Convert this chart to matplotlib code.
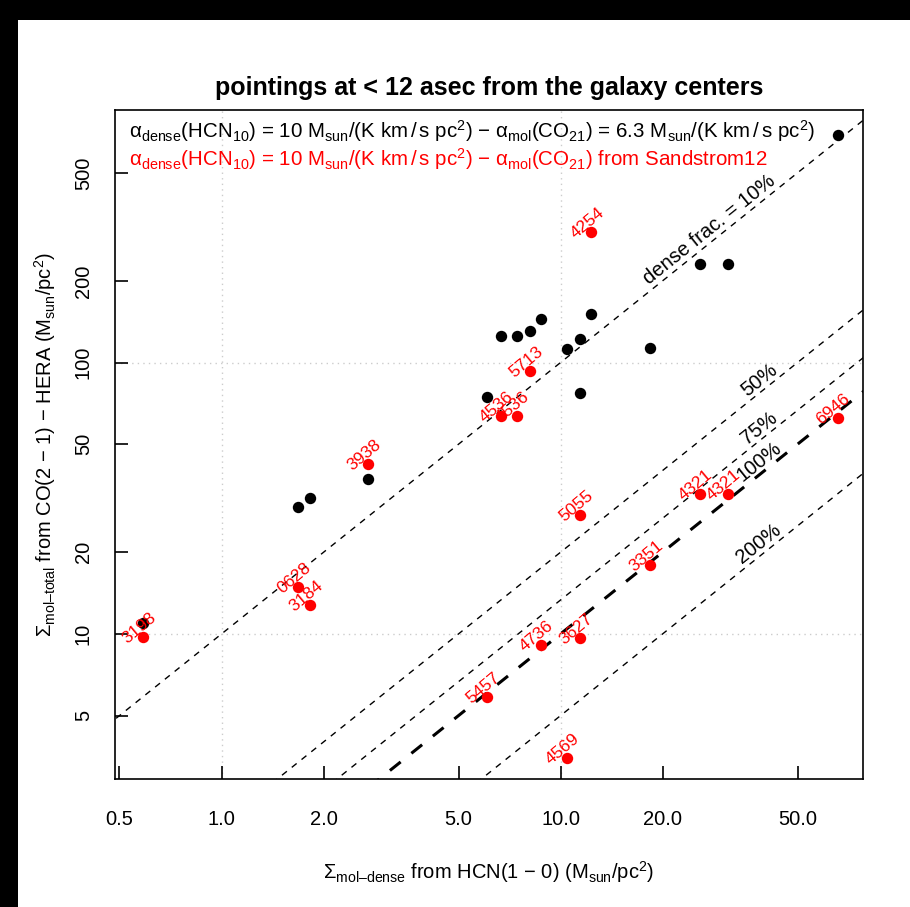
import numpy as np
import matplotlib
matplotlib.use("Agg")
import matplotlib.pyplot as plt
from matplotlib.patches import Rectangle
from matplotlib.ticker import NullLocator

plt.rcParams['font.family'] = ['Liberation Sans', 'DejaVu Sans']
plt.rcParams['mathtext.fontset'] = 'custom'
plt.rcParams['mathtext.rm'] = 'Liberation Sans'
plt.rcParams['mathtext.it'] = 'Liberation Sans:italic'
plt.rcParams['mathtext.bf'] = 'Liberation Sans:bold'

# galaxies (NGC numbers) and surface densities
galaxies = ['3198', '0628', '3184', '3938', '5457', '4536', '4536', '5713', '4736',
            '4569', '3627', '5055', '4254', '3351', '4321', '4321', '6946']
sigma_dense = [0.587, 1.685, 1.824, 2.71, 6.08, 6.66, 7.43, 8.14, 8.74,
               10.45, 11.4, 11.45, 12.3, 18.4, 25.7, 31.15, 65.6]
# alpha_mol(CO21) = 6.3  (black)
sigma_total_fixed = [10.98, 29.3, 31.8, 37.3, 74.5, 125.6, 125.6, 131.1, 144.8,
                     112.2, 121.8, 77.1, 151.4, 113.5, 230, 230, 691]
# alpha_mol(CO21) from Sandstrom12  (red)
sigma_total_s12 = [9.72, 14.86, 12.8, 42.4, 5.87, 63.5, 63.5, 93.1, 9.09,
                   3.50, 9.62, 27.4, 303, 18.0, 32.8, 32.8, 62.5]

dense_fracs = [0.1, 0.5, 0.75, 1.0, 2.0]
frac_labels = ['dense frac. = 10%', '50%', '75%', '100%', '200%']
x_ticks = [0.5, 1, 2, 5, 10, 20, 50]
x_ticklabels = ['0.5', '1.0', '2.0', '5.0', '10.0', '20.0', '50.0']
y_ticks = [5, 10, 20, 50, 100, 200, 500]

fig = plt.figure(figsize=(9.1, 9.07), dpi=100, facecolor='black')
fig.add_artist(Rectangle((18 / 910, 0), 1, 1 - 20 / 907, transform=fig.transFigure,
                         facecolor='white', edgecolor='none', zorder=-5))
ax = fig.add_axes([115 / 910, 1 - 779 / 907, 748 / 910, 669 / 907])
ax.set_xscale('log')
ax.set_yscale('log')
xmin, xmax = 0.485, 78.0
ymin, ymax = 2.92, 852.0
ax.set_xlim(xmin, xmax)
ax.set_ylim(ymin, ymax)

# dotted grid at decades
for v in [1, 10]:
    ax.axvline(v, color='#cccccc', lw=1, ls=(0, (1, 3)), zorder=0)
for v in [10, 100]:
    ax.axhline(v, color='#cccccc', lw=1, ls=(0, (1, 3)), zorder=0)

# constant dense fraction lines
xl = np.array([0.1, 1000.0])
for f in dense_fracs:
    ax.plot(xl, xl / f, color='black', lw=2.2 if f == 1.0 else 1.0,
            ls=(0, (4.5, 4.5)), zorder=1)

ppd_x = 748 / (np.log10(xmax) - np.log10(xmin))
ppd_y = 669 / (np.log10(ymax) - np.log10(ymin))
ang = np.degrees(np.arctan(ppd_y / ppd_x))
lab_x = [27.5, 38.5, 38.5, 38.5, 38.5]
for f, lab, lx in zip(dense_fracs, frac_labels, lab_x):
    ax.text(lx, lx / f * 1.12, lab, rotation=ang, ha='center', va='center',
            fontsize=14.5, zorder=3)

ax.plot(sigma_dense, sigma_total_fixed, 'o', color='black', ms=8.2, mew=0, zorder=2)
ax.plot(sigma_dense, sigma_total_s12, 'o', color='red', ms=8.2, mew=0, zorder=2)
for g, x, y in zip(galaxies, sigma_dense, sigma_total_s12):
    ax.annotate(g, (x, y), xytext=(-4, 9), textcoords='offset pixels', rotation=40,
                ha='center', va='center', color='red', fontsize=12.5, zorder=4)

ax.text(0.0187, 0.969,
        r'α$_{\mathrm{dense}}$(HCN$_{10}$) = 10 M$_{\mathrm{sun}}$/(K km$\,$/$\,$s pc$^2$)'
        r' − α$_{\mathrm{mol}}$(CO$_{21}$) = 6.3 M$_{\mathrm{sun}}$/(K km$\,$/$\,$s pc$^2$)',
        transform=ax.transAxes, ha='left', va='center', fontsize=14.8, color='black')
ax.text(0.0187, 0.927,
        r'α$_{\mathrm{dense}}$(HCN$_{10}$) = 10 M$_{\mathrm{sun}}$/(K km$\,$/$\,$s pc$^2$)'
        r' − α$_{\mathrm{mol}}$(CO$_{21}$) from Sandstrom12',
        transform=ax.transAxes, ha='left', va='center', fontsize=14.8, color='red')

ax.set_xticks(x_ticks)
ax.set_xticklabels(x_ticklabels)
ax.set_yticks(y_ticks)
ax.set_yticklabels([str(v) for v in y_ticks])
ax.xaxis.set_minor_locator(NullLocator())
ax.yaxis.set_minor_locator(NullLocator())
ax.tick_params(direction='in', length=9.5, width=1.2, labelsize=14.5, top=False, right=False)
ax.tick_params(axis='x', pad=22)
ax.tick_params(axis='y', pad=16)
for lbl in ax.get_yticklabels():
    lbl.set_rotation(90)
    lbl.set_va('center')
for s in ax.spines.values():
    s.set_linewidth(1.2)

ax.set_title('pointings at < 12 asec from the galaxy centers', fontweight='bold',
             fontsize=18, pad=11)
fig.text(489 / 910, 1 - 872 / 907,
         r'$\Sigma_{\mathrm{mol–dense}}$ from HCN(1 − 0) (M$_{\mathrm{sun}}$/pc$^2$)',
         ha='center', va='center', fontsize=14.5)
fig.text(45 / 910, 1 - 444.5 / 907,
         r'$\Sigma_{\mathrm{mol–total}}$ from CO(2 − 1) − HERA (M$_{\mathrm{sun}}$/pc$^2$)',
         ha='center', va='center', rotation=90, fontsize=14.5)

fig.savefig('out.png', dpi=100, facecolor=fig.get_facecolor())
